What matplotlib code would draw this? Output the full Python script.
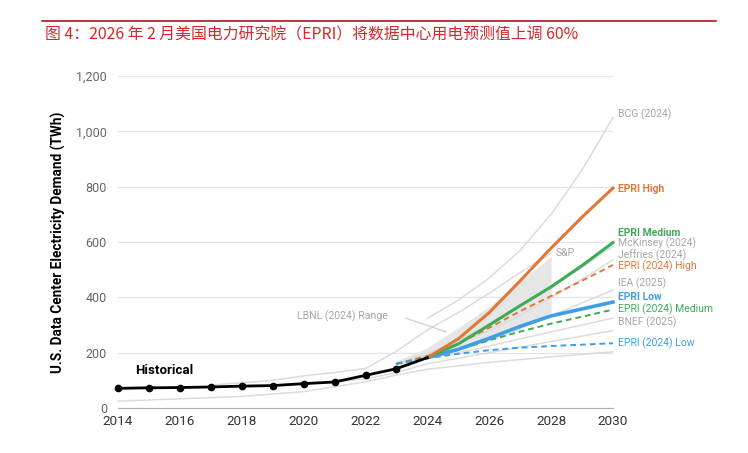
import numpy as np
import matplotlib
matplotlib.use("Agg")
import matplotlib.pyplot as plt

plt.rcParams['font.family'] = ['Roboto', 'DejaVu Sans']

TITLE = "图 4：2026 年 2 月美国电力研究院（EPRI）将数据中心用电预测值上调 60%"

# historical
hist_years = list(range(2014, 2025))
hist_vals = [71, 73, 74, 76, 79, 81, 88, 94, 118, 142, 182]

# EPRI 2026 scenarios
epri_years = list(range(2024, 2031))
epri_high = [182, 250, 345, 460, 578, 690, 795]
epri_medium = [182, 232, 300, 370, 438, 515, 598]
epri_low = [182, 212, 252, 295, 333, 358, 383]

# EPRI 2024 scenarios (dashed)
epri24_years = list(range(2023, 2031))
epri24_high = [160, 188, 232, 290, 350, 405, 460, 517]
epri24_medium = [160, 182, 210, 245, 276, 305, 330, 356]
epri24_low = [160, 180, 196, 209, 218, 224, 229, 234]

# other forecasts (gray)
bcg_years = list(range(2024, 2031))
bcg_vals = [324, 390, 470, 570, 700, 860, 1050]
sp_years = [2017, 2018, 2019, 2020, 2021, 2022, 2023, 2024, 2025, 2026, 2027, 2028]
sp_vals = [83, 91, 100, 116, 128, 143, 205, 282, 345, 415, 490, 560]
mck_years = list(range(2023, 2031))
mck_vals = [160, 196, 245, 300, 365, 435, 508, 585]
jef_years = list(range(2023, 2031))
jef_vals = [158, 192, 232, 280, 335, 400, 466, 535]
iea_years = list(range(2023, 2031))
iea_vals = [156, 183, 213, 248, 288, 333, 380, 426]
bnef_years = list(range(2023, 2031))
bnef_vals = [155, 180, 200, 224, 250, 275, 300, 325]
low_years = [2014, 2016, 2018, 2020, 2022, 2023, 2024, 2026, 2028, 2030]
low_vals = [25, 33, 42, 59, 95, 119, 140, 165, 185, 203]
low2_years = [2018, 2020, 2022, 2023, 2024, 2026, 2028, 2030]
low2_vals = [80, 86, 105, 128, 160, 200, 240, 280]

# LBNL range
lbnl_years = list(range(2023, 2029))
lbnl_lo = [165, 185, 210, 242, 285, 345]
lbnl_hi = [170, 218, 290, 368, 458, 548]

# right-side labels
label_text = ["BCG (2024)", "EPRI High", "EPRI Medium", "McKinsey (2024)", "Jeffries (2024)",
              "EPRI (2024) High", "IEA (2025)", "EPRI Low", "EPRI (2024) Medium",
              "BNEF (2025)", "EPRI (2024) Low"]
label_y = [1063, 791, 632, 596, 553, 513, 452, 401, 358, 311, 235]

ORANGE = '#e2773a'
GREEN = '#3eab58'
BLUE = '#3f9fe6'
GRAY_LINE = '#dcdcdc'
GRAY_TEXT = '#a6a6a6'
label_color = [GRAY_TEXT, ORANGE, GREEN, GRAY_TEXT, GRAY_TEXT, ORANGE, GRAY_TEXT,
               BLUE, GREEN, GRAY_TEXT, BLUE]
label_bold = [False, True, True, False, False, False, False, True, False, False, False]

fig = plt.figure(figsize=(7.48, 4.53), dpi=100)
ax = fig.add_axes([118 / 748, 1 - 408 / 453, 495 / 748, 332 / 453])

# title and rule
fig.add_artist(plt.Line2D([42 / 748, 716 / 748], [1 - 21 / 453, 1 - 21 / 453],
                          color='#b5121b', lw=1.2))
fig.text(45 / 748, 1 - 35 / 453, TITLE, color='#d9262c', fontsize=11.4,
         family=['Noto Sans CJK SC', 'DejaVu Sans'], va='center', ha='left')

ax.set_xlim(2014, 2030)
ax.set_ylim(0, 1200)
ax.set_yticks(range(0, 1201, 200))
ax.set_yticklabels(['0', '200', '400', '600', '800', '1,000', '1,200'])
ax.set_xticks(range(2014, 2031, 2))
ax.grid(axis='y', color='#e3e3e3', lw=0.9)
ax.set_axisbelow(True)
for s in ['top', 'right', 'left']:
    ax.spines[s].set_visible(False)
ax.spines['bottom'].set_color('#b0b0b0')
ax.tick_params(axis='y', length=0, labelsize=9, labelcolor='#666666', pad=8)
ax.tick_params(axis='x', length=0, labelsize=9.7, labelcolor='#333333', pad=5)
ax.set_ylabel('U.S. Data Center Electricity Demand (TWh)', fontsize=9.8,
              fontweight='bold', labelpad=7)

# LBNL range fill
ax.fill_between(lbnl_years, lbnl_lo, lbnl_hi, color='#e6e6e6', lw=0, zorder=1)

# gray forecast lines
for yrs, vals in [(bcg_years, bcg_vals), (sp_years, sp_vals), (mck_years, mck_vals),
                  (jef_years, jef_vals), (iea_years, iea_vals), (bnef_years, bnef_vals),
                  (low_years, low_vals), (low2_years, low2_vals)]:
    ax.plot(yrs, vals, color=GRAY_LINE, lw=1.1, zorder=2, clip_on=False)

# EPRI 2024 dashed
ax.plot(epri24_years, epri24_high, color=ORANGE, lw=1.4, ls=(0, (3, 2)), zorder=3, clip_on=False)
ax.plot(epri24_years, epri24_medium, color=GREEN, lw=1.4, ls=(0, (3, 2)), zorder=3, clip_on=False)
ax.plot(epri24_years, epri24_low, color=BLUE, lw=1.4, ls=(0, (3, 2)), zorder=3, clip_on=False)

# EPRI solid
ax.plot(epri_years, epri_low, color=BLUE, lw=2.6, zorder=4, clip_on=False)
ax.plot(epri_years, epri_medium, color=GREEN, lw=2.2, zorder=4, clip_on=False)
ax.plot(epri_years, epri_high, color=ORANGE, lw=2.2, zorder=5, clip_on=False)

# historical
ax.plot(hist_years[:-1], hist_vals[:-1], color='black', lw=2, marker='o', ms=4.5,
        zorder=6, clip_on=False)
ax.plot(hist_years[-2:], hist_vals[-2:], color='black', lw=2, zorder=6)
ax.text(2015.5, 135, 'Historical', fontsize=9.5, fontweight='bold', ha='center', va='center')

# annotations
ax.text(2021.25, 330, 'LBNL (2024) Range', fontsize=7.6, color=GRAY_TEXT, ha='center', va='center')
ax.plot([2023.3, 2024.6], [325, 275], color='#cfcfcf', lw=0.9, zorder=2)
ax.text(2028.15, 560, 'S&P', fontsize=7.6, color=GRAY_TEXT, ha='left', va='center')

for t, y, c, b in zip(label_text, label_y, label_color, label_bold):
    ax.text(2030.17, y, t, fontsize=7.5, color=c, fontweight='bold' if b else 'normal',
            ha='left', va='center', clip_on=False)

fig.savefig('out.png', dpi=100, facecolor='white')
